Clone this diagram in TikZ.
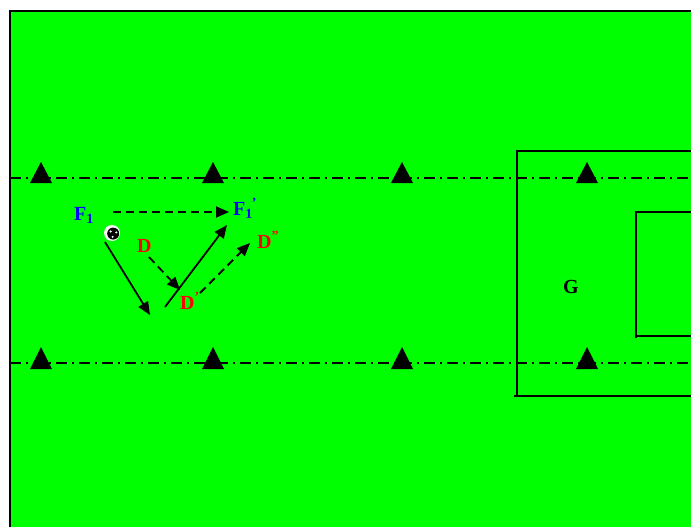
\documentclass[tikz,border=0pt]{standalone}
\usepackage{fontspec}
\setmainfont{Liberation Serif}
\usetikzlibrary{arrows.meta}

\definecolor{pitch}{RGB}{0,255,0}
\tikzset{
  lbl/.style={anchor=base west,inner sep=0pt,font=\fontsize{20}{20}\selectfont\bfseries},
  cone/.style={fill=black},
  touchline/.style={line width=1.3pt,dash pattern=on 11pt off 5pt on 2pt off 5pt},
  pass/.style={line width=1.8pt,-{Triangle[length=13pt,width=11pt]}},
  run/.style={pass,dash pattern=on 8pt off 5pt}
}

\begin{document}
\begin{tikzpicture}[x=1pt,y=-1pt]
  \useasboundingbox (0,0) rectangle (691,527);
  % pitch
  \fill[pitch] (10,11) rectangle (700,540);
  \draw[line width=1.5pt] (10,540) -- (10,11) -- (700,11);
  % channel lines
  \draw[touchline] (10,178) -- (691,178);
  \draw[touchline] (10,363) -- (691,363);
  % goal area
  \draw[line width=1.3pt] (700,151) -- (517,151) -- (517,396);
  \draw[line width=1.3pt] (514,396) -- (700,396);
  \draw[line width=1.3pt] (700,212) -- (636,212) -- (636,338);
  \draw[line width=1.3pt] (636,336) -- (700,336);
  \node[lbl] (g) at (563,293) {G};
  % cones
  \foreach \x in {41,213,402,587} {
    \fill[cone] (\x-11,183) -- (\x,162) -- (\x+11,183) -- cycle;
    \fill[cone] (\x-11,369) -- (\x,347) -- (\x+11,369) -- cycle;
  }
  % players
  \node[lbl,text=blue] (f1) at (74,220) {F\textsubscript{1}};
  \node[lbl,text=blue] (f1p) at (233,215) {F\textsubscript{1}\kern-1pt\textsuperscript{’}};
  \node[lbl,text=red] (d) at (137,252) {D};
  \node[lbl,text=red] (dp) at (180,309) {D\textsuperscript{’}};
  \node[lbl,text=red] (dpp) at (257,248) {D\textsuperscript{”}};
  % ball
  \node[circle,fill=white,minimum size=16pt,inner sep=0pt] (ball) at (112,233) {};
  \fill ([shift={(1.2,0.6)}]ball.center) circle (6pt);
  \foreach \a in {20,140,260} \fill[white] ([shift={(1.2,0.6)}]ball.center) ++(\a:3.3pt) circle (1.2pt);
  % moves
  \coordinate (f1e) at (113,212);
  \coordinate (f1pe) at (229,212);
  \coordinate (pass1) at (105,242);
  \coordinate (pass1e) at (150,315);
  \coordinate (pass2) at (165,307);
  \coordinate (pass2e) at (227,225);
  \coordinate (de) at (149,257);
  \coordinate (dpe) at (180,290);
  \coordinate (dps) at (200,293);
  \coordinate (dppe) at (250,243);
  \draw[run] (f1e) -- (f1pe);
  \draw[pass] (pass1) -- (pass1e);
  \draw[pass] (pass2) -- (pass2e);
  \draw[run] (de) -- (dpe);
  \draw[run] (dps) -- (dppe);
\end{tikzpicture}
\end{document}
